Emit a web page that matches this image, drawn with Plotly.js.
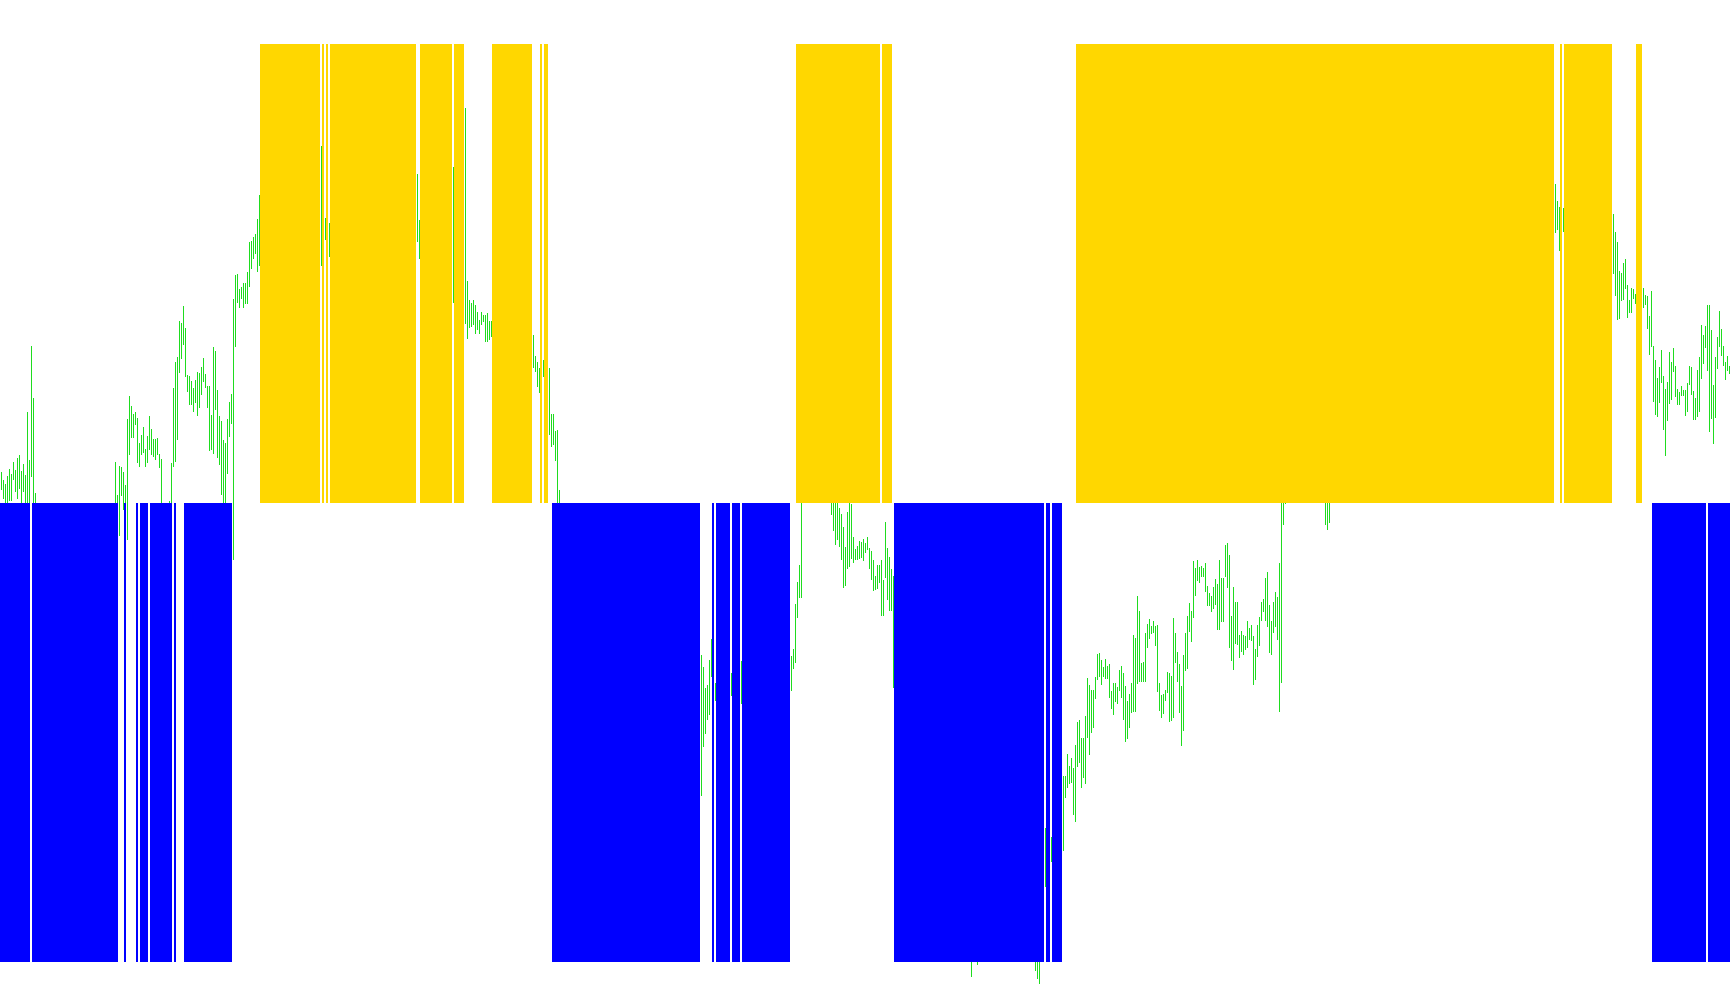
<!DOCTYPE html>
<html>
<head>
<meta charset="utf-8">
<script src="https://cdn.plot.ly/plotly-3.0.1.min.js"></script>
<style>
  html, body { margin: 0; padding: 0; background: #ffffff; overflow: hidden; }
  #chart { width: 1730px; height: 1005px; }
  #chart .barlayer path { shape-rendering: crispEdges; }
</style>
</head>
<body>
<div id="chart"></div>
<script>
// ---- Trend histogram: run-length encoded state per bar (+1 up / -1 down / 0 none)
const trendValue = [
  -1,0,-1,0,-1,0,-1,0,-1,0,-1,0,-1,0,-1,0,
  1,0,1,0,1,0,1,0,1,0,1,0,1,0,1,0,1,0,
  -1,0,-1,0,-1,0,-1,0,-1,0,
  1,0,1,0,
  -1,0,-1,0,-1,0,
  1,0,1,0,1,0,1,0,
  -1,0,-1
];
const trendLength = [
  15,1,43,3,1,5,1,1,4,1,11,1,1,4,24,14,
  30,1,1,1,1,1,43,2,16,1,5,14,20,4,1,1,2,2,
  74,6,1,1,7,1,4,1,24,3,
  42,1,5,1,
  75,1,2,1,5,7,
  239,3,1,1,24,12,3,5,
  27,1,11
];

// ---- Price bars (high / low, in points), visible stretches only
const blockStart = [0,57,84,160,162,164,208,226,232,266,271,274,350,357,365,370,395,415,485,488,517,522,525,531,662,777,781,806,821];
const blockHigh = [
  [1528,1520,1516,1524,1531,1526,1538,1530,1542,1545,1529,1536,1525,1588,1540,1654,1602,1507],
  [1538,1505,1534,1533,1528,1515,1581,1604,1594,1586,1588,1582,1557,1565,1573,1551,1564,1584,1571,1561,1561,1562,1546,1541],
  [1499,1537,1612,1638,1643,1679,1677,1694,1672,1625,1624,1619,1612,1620,1628,1627,1633,1642,1626,1614,1614,1585,1653,1649,1610,1584,1579,1560,1557,1581,1598,1606,1701,1725,1726,1711,1713,1717,1717,1728,1758,1759,1763,1766,1781,1805],
  [1854],
  [1782],
  [1777],
  [1826,1780],
  [1833],
  [1892,1719,1700,1697,1700,1695,1688,1680,1688,1685,1685,1687,1679,1679],
  [1665,1644,1638,1632],
  [1640],
  [1632,1586,1586,1569,1570,1510],
  [1345,1333,1312,1315,1340,1361],
  [1317],
  [1327],
  [1339],
  [1344,1351,1396,1418,1435,1505],
  [1510,1510,1512,1508,1492,1486,1473,1453,1488,1505,1496,1463,1451,1454,1459,1458,1461,1457,1463,1452,1449,1440,1424,1435,1435,1440,1420,1478,1452,1443,1431,1424],
  [1060],
  [1055],
  [1055,1050,1045],
  [1172],
  [1163],
  [1224,1224,1246,1234,1242,1232,1255,1278,1280,1262,
   1262,1284,1322,1315,1310,1310,1323,1346,1347,1340,
   1333,1341,1334,1336,1309,1317,1317,1313,1330,1334,
   1327,1314,1299,1306,1317,1365,1362,1404,1389,1337,
   1338,1367,1376,1381,1374,1379,1374,1375,1317,1305,
   1306,1310,1328,1327,1324,1382,1367,1348,1336,1314,
   1345,1367,1384,1397,1389,1439,1432,1440,1433,1434,
   1432,1437,1414,1407,1404,1413,1421,1416,1440,1422,
   1422,1455,1457,1445,1384,1413,1398,1398,1365,1369,
   1365,1364,1379,1372,1375,1364,1351,1375,1383,1398,
   1401,1422,1428,1395,1379,1398,1408,1403,1437,1520,
   1510,1505],
  [1510,1505,1502],
  [1816,1799,1793],
  [1792],
  [1786,1768,1758,1729,1727,1737,1741,1715,1700,1712,1711,1706],
  [1712,1705,1704,1684,1709,1654,1640,1622,1633,1650,1624,1611,1618,1648,1638,1652,1634,1611,1608,1614,1610,1610,1617,1634,1633,1609,1602,1630,1643,1675,1665,1674,1695,1695,1670,1615,1643,1663,1689,1671,1654,1638,1644,1634]
];
const blockLow = [
  [1510,1501,1490,1495,1499,1499,1520,1508,1501,1511,1495,1508,1490,1490,1485,1523,1495,1485],
  [1480,1470,1464,1504,1490,1480,1460,1545,1562,1562,1575,1537,1533,1545,1547,1533,1537,1550,1545,1543,1540,1545,1532,1490],
  [1485,1485,1533,1538,1560,1627,1641,1655,1623,1608,1595,1595,1588,1597,1584,1592,1605,1618,1612,1592,1549,1550,1546,1590,1542,1535,1505,1490,1492,1526,1563,1576,1440,1653,1697,1692,1701,1692,1696,1696,1713,1731,1741,1746,1728,1734],
  [1734],
  [1760],
  [1743],
  [1758,1741],
  [1697],
  [1676,1661,1672,1673,1675,1666,1670,1666,1675,1678,1658,1658,1660,1663],
  [1632,1628,1613,1607],
  [1623],
  [1565,1553,1555,1539,1480,1470],
  [1204,1253,1266,1280,1285,1323],
  [1299],
  [1304],
  [1296],
  [1309,1331,1337,1382,1402,1402],
  [1485,1469,1455,1460,1453,1440,1412,1414,1431,1433,1441,1437,1440,1440,1441,1442,1439,1447,1450,1431,1420,1409,1410,1411,1417,1384,1384,1422,1400,1389,1389,1312],
  [1023],
  [1035],
  [1029,1021,1016],
  [1113],
  [1138],
  [1149,1202,1212,1216,1217,1185,1178,1233,1237,1212,
   1222,1216,1262,1245,1267,1272,1301,1320,1323,1315,
   1323,1321,1321,1302,1291,1285,1298,1296,1309,1302,
   1280,1258,1261,1272,1287,1288,1288,1316,1318,1318,
   1318,1318,1352,1361,1366,1367,1354,1308,1289,1282,
   1286,1299,1307,1278,1279,1282,1337,1318,1287,1254,
   1269,1329,1331,1368,1358,1382,1404,1419,1417,1423,
   1423,1408,1394,1394,1388,1391,1395,1370,1370,1378,
   1378,1423,1412,1352,1339,1330,1356,1355,1342,1348,
   1345,1350,1352,1360,1359,1315,1320,1343,1354,1379,
   1388,1379,1373,1347,1345,1367,1373,1360,1288,1317,
   1475,1496],
  [1475,1470,1477],
  [1767,1770,1749],
  [1768],
  [1726,1704,1680,1681,1699,1700,1711,1682,1687,1687,1701,1696],
  [1692,1695,1671,1645,1653,1598,1585,1583,1597,1617,1570,1544,1579,1596,1600,1628,1603,1595,1595,1604,1604,1584,1588,1615,1605,1580,1580,1583,1588,1621,1636,1652,1629,1568,1581,1556,1582,1631,1653,1644,1634,1620,1629,1626]
];

// ---- Build traces
const upX = [], upY = [], dnX = [], dnY = [];
let bar = 0;
for (let r = 0; r < trendValue.length; r++) {
  for (let k = 0; k < trendLength[r]; k++) {
    if (trendValue[r] > 0) { upX.push(bar); upY.push(1); }
    else if (trendValue[r] < 0) { dnX.push(bar); dnY.push(-1); }
    bar++;
  }
}
const nBars = bar;

// price high-low ranges drawn as thin floating bars (base = low, length = high - low)
const pX = [], pBase = [], pLen = [];
for (let b = 0; b < blockStart.length; b++) {
  for (let j = 0; j < blockHigh[b].length; j++) {
    pX.push(blockStart[b] + j + 0.25);
    pBase.push(blockLow[b][j]);
    pLen.push(blockHigh[b][j] - blockLow[b][j]);
  }
}

const traces = [
  { type: 'bar', x: pX, y: pLen, base: pBase, width: 0.5, xaxis: 'x', yaxis: 'y',
    marker: { color: '#1fdc1f', line: { width: 0 } }, hoverinfo: 'skip', name: 'Price' },
  { type: 'bar', x: upX, y: upY, width: 1, xaxis: 'x', yaxis: 'y2',
    marker: { color: '#ffd700', line: { width: 0 } }, hoverinfo: 'skip', name: 'Up' },
  { type: 'bar', x: dnX, y: dnY, width: 1, xaxis: 'x', yaxis: 'y2',
    marker: { color: '#0000ff', line: { width: 0 } }, hoverinfo: 'skip', name: 'Down' }
];

const layout = {
  width: 1730, height: 1005,
  margin: { l: 0, r: 0, t: 0, b: 0, pad: 0 },
  paper_bgcolor: '#ffffff', plot_bgcolor: '#ffffff',
  showlegend: false,
  barmode: 'overlay', bargap: 0,
  xaxis: { range: [-0.5, nBars - 0.5], visible: false, fixedrange: true },
  yaxis: { range: [995, 2000], visible: false, fixedrange: true },
  yaxis2: { range: [-1.093682, 1.095861], overlaying: 'y', visible: false, fixedrange: true }
};

Plotly.newPlot('chart', traces, layout, { displayModeBar: false, staticPlot: true });
</script>
</body>
</html>
